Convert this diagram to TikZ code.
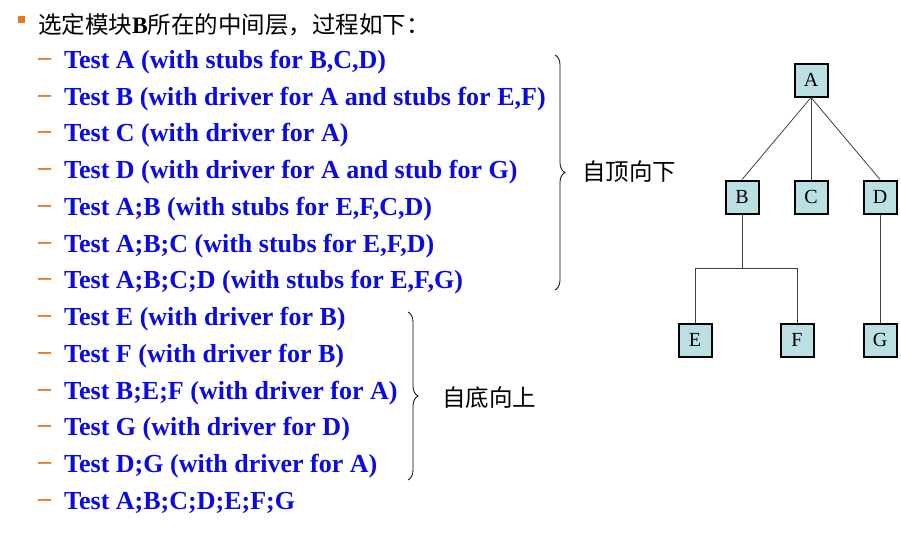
\documentclass[tikz,border=0pt]{standalone}
\usepackage{fontspec}
\setmainfont{Liberation Serif}
\newfontfamily\cjk{Noto Sans CJK SC}
\usetikzlibrary{decorations.pathreplacing}
\definecolor{tblue}{RGB}{10,10,225}
\definecolor{torange}{RGB}{230,120,40}
\definecolor{boxfill}{RGB}{187,224,227}
\begin{document}
\begin{tikzpicture}[x=1pt,y=-1pt,
  item/.style={anchor=west,inner sep=0pt,font=\fontsize{26}{30}\selectfont\bfseries,text=tblue},
  dashmark/.style={anchor=west,inner sep=0pt,font=\fontsize{26}{30}\selectfont\bfseries,text=torange},
  box/.style={draw=black,line width=2pt,fill=boxfill,minimum width=33pt,minimum height=33pt,inner sep=0pt,font=\fontsize{20}{24}\selectfont},
  lab/.style={anchor=west,inner sep=0pt,font=\cjk\fontsize{23.5}{28}\selectfont},
  edge/.style={line width=0.8pt,draw=black!75}]
\useasboundingbox (0,0) rectangle (901,546);
\node[fill=torange,minimum size=7pt,inner sep=0pt] (sq) at (21,19) {};
\node[lab,anchor=west] (title) at (38,25) {选定模块\textbf{\rmfamily B}所在的中间层，过程如下：};
\foreach \i/\t in {1/{Test A (with stubs for B,C,D)},
  2/{Test B (with driver for A and stubs for E,F)},
  3/{Test C (with driver for A)},
  4/{Test D (with driver for A and stub for G)},
  5/{Test A;B (with stubs for E,F,C,D)},
  6/{Test A;B;C (with stubs for E,F,D)},
  7/{Test A;B;C;D (with stubs for E,F,G)},
  8/{Test E (with driver for B)},
  9/{Test F (with driver for B)},
  10/{Test B;E;F (with driver for A)},
  11/{Test G (with driver for D)},
  12/{Test D;G (with driver for A)},
  13/{Test A;B;C;D;E;F;G}}{
  \node[dashmark] (d\i) at (38,{62+36.75*(\i-1)}) {–};
  \node[item] (t\i) at (64,{62+36.75*(\i-1)}) {\t};
}
\coordinate (b1t) at (555,55); \coordinate (b1b) at (555,290);
\draw[line width=0.8pt,decorate,decoration={brace,amplitude=10pt}] (b1t) -- (b1b);
\node[lab] (l1) at (582,172) {自顶向下};
\coordinate (b2t) at (408,312); \coordinate (b2b) at (408,480);
\draw[line width=0.8pt,decorate,decoration={brace,amplitude=10pt}] (b2t) -- (b2b);
\node[lab] (l2) at (442,398) {自底向上};
\node[box] (A) at (811,80) {A};
\node[box] (B) at (742,197) {B};
\node[box] (C) at (811,197) {C};
\node[box] (D) at (880,197) {D};
\node[box] (E) at (695,340) {E};
\node[box] (F) at (797,340) {F};
\node[box] (G) at (880,340) {G};
\draw[edge] (A.south) -- (B.north);
\draw[edge] (A.south) -- (C.north);
\draw[edge] (A.south) -- (D.north);
\draw[edge] (B.south) -- (742,268) -| (E.north);
\draw[edge] (742,268) -| (F.north);
\draw[edge] (D.south) -- (G.north);
\end{tikzpicture}
\end{document}
